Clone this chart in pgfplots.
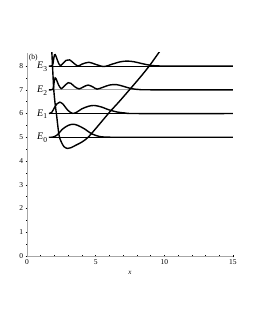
\documentclass[border=0pt]{standalone}
\usepackage{fontspec}
\setmainfont{Liberation Serif}
\usepackage{pgfplots}
\pgfplotsset{compat=1.18}
\newcommand{\lev}[1]{\fontsize{10}{12}\selectfont\textit{E}\raisebox{-0.55ex}{\fontsize{7.5}{8}\selectfont #1}}
\begin{document}
\fontsize{7}{8}\selectfont
\begin{tikzpicture}
\useasboundingbox (0,0) rectangle (255pt,330pt);
\begin{axis}[at={(27pt,74pt)}, anchor=south west, scale only axis,
  width=206pt, height=203pt,
  xmin=0, xmax=15, ymin=0, ymax=8.55,
  axis lines*=left,
  axis line style={gray!70, line width=0.8pt},
  xtick={0,5,10,15}, ytick={0,1,...,8},
  minor xtick={1,2,3,4,6,7,8,9,11,12,13,14},
  minor ytick={0.5,1.5,...,7.5},
  tick style={black, line width=0.5pt},
  major tick length=2.5pt, minor tick length=1.5pt,
  tick align=center,
  ticklabel style={font=\fontsize{7.5}{8}\selectfont},
  /pgf/number format/assume math mode=true,
  xlabel={\textit{x}},
  xlabel style={at={(axis description cs:0.5,0)}, anchor=north, yshift=-13pt},
  clip=true,
]
% level lines
\addplot[black, line width=0.5pt] coordinates {(1.6,5) (15,5)};
\addplot[black, line width=0.5pt] coordinates {(1.6,6) (15,6)};
\addplot[gray!70, line width=1.2pt] coordinates {(1.6,7) (15,7)};
\addplot[black, line width=0.5pt] coordinates {(1.6,8) (15,8)};
% potential
\addplot[black, line width=1.4pt, smooth, tension=0.5] coordinates {
(1.8,8.7) (1.85,8.1) (1.95,7.0) (2.05,6.4) (2.15,5.95) (2.33,5.1) (2.5,4.8) (2.7,4.6) (2.95,4.53) (3.2,4.56) (3.6,4.68) (4.0,4.8) (4.45,5.0) (5.2,5.5) (6.0,6.05) (6.74,6.52) (7.46,7.0) (8.2,7.5) (8.9,8.0) (9.7,8.65)};
% E0
\addplot[black, line width=1.4pt, smooth, tension=0.5] coordinates {
(1.6,5) (1.9,5.01) (2.2,5.1) (2.6,5.35) (3.0,5.5) (3.35,5.55) (3.7,5.5) (4.2,5.35) (4.7,5.15) (5.3,5.03) (6,5.005) (7,5) (15,5)};
% E1
\addplot[black, line width=1.4pt, smooth, tension=0.5] coordinates {
(1.6,6) (1.8,6.05) (2.0,6.25) (2.2,6.42) (2.4,6.48) (2.65,6.38) (2.95,6.15) (3.3,6.01) (3.6,6.05) (4.0,6.2) (4.5,6.31) (4.9,6.34) (5.4,6.28) (6.0,6.15) (6.6,6.06) (7.2,6.02) (8,6) (15,6)};
% E2
\addplot[black, line width=1.4pt, smooth, tension=0.5] coordinates {
(1.6,7) (1.88,7.02) (1.97,7.3) (2.05,7.5) (2.15,7.42) (2.3,7.2) (2.5,7.05) (2.7,7.15) (3.0,7.3) (3.2,7.27) (3.5,7.12) (3.8,7.04) (4.1,7.12) (4.45,7.2) (4.8,7.12) (5.1,7.03) (5.5,7.1) (6.0,7.2) (6.5,7.22) (7.0,7.15) (7.6,7.05) (8.2,7.01) (9,7) (15,7)};
% E3
\addplot[black, line width=1.4pt, smooth, tension=0.5] coordinates {
(1.6,8) (1.85,8.02) (1.93,8.25) (2.0,8.47) (2.06,8.48) (2.15,8.35) (2.3,8.12) (2.44,8.02) (2.6,8.1) (2.85,8.24) (3.1,8.26) (3.35,8.15) (3.7,8.0) (4.0,8.08) (4.5,8.16) (5.0,8.07) (5.6,7.98) (6.2,8.08) (6.8,8.18) (7.3,8.21) (7.8,8.18) (8.4,8.1) (9.0,8.03) (9.6,8.005) (10.5,8) (15,8)};
% labels
\node[anchor=east, inner sep=1pt] at (axis cs:1.55,4.97) {\lev{0}};
\node[anchor=east, inner sep=1pt] at (axis cs:1.55,5.97) {\lev{1}};
\node[anchor=east, inner sep=1pt] at (axis cs:1.55,6.97) {\lev{2}};
\node[anchor=east, inner sep=1pt] at (axis cs:1.55,7.97) {\lev{3}};
\node[inner sep=0pt] at (axis cs:0.45,8.34) {\fontsize{7.5}{8}\selectfont(b)};
\end{axis}
\end{tikzpicture}
\end{document}
